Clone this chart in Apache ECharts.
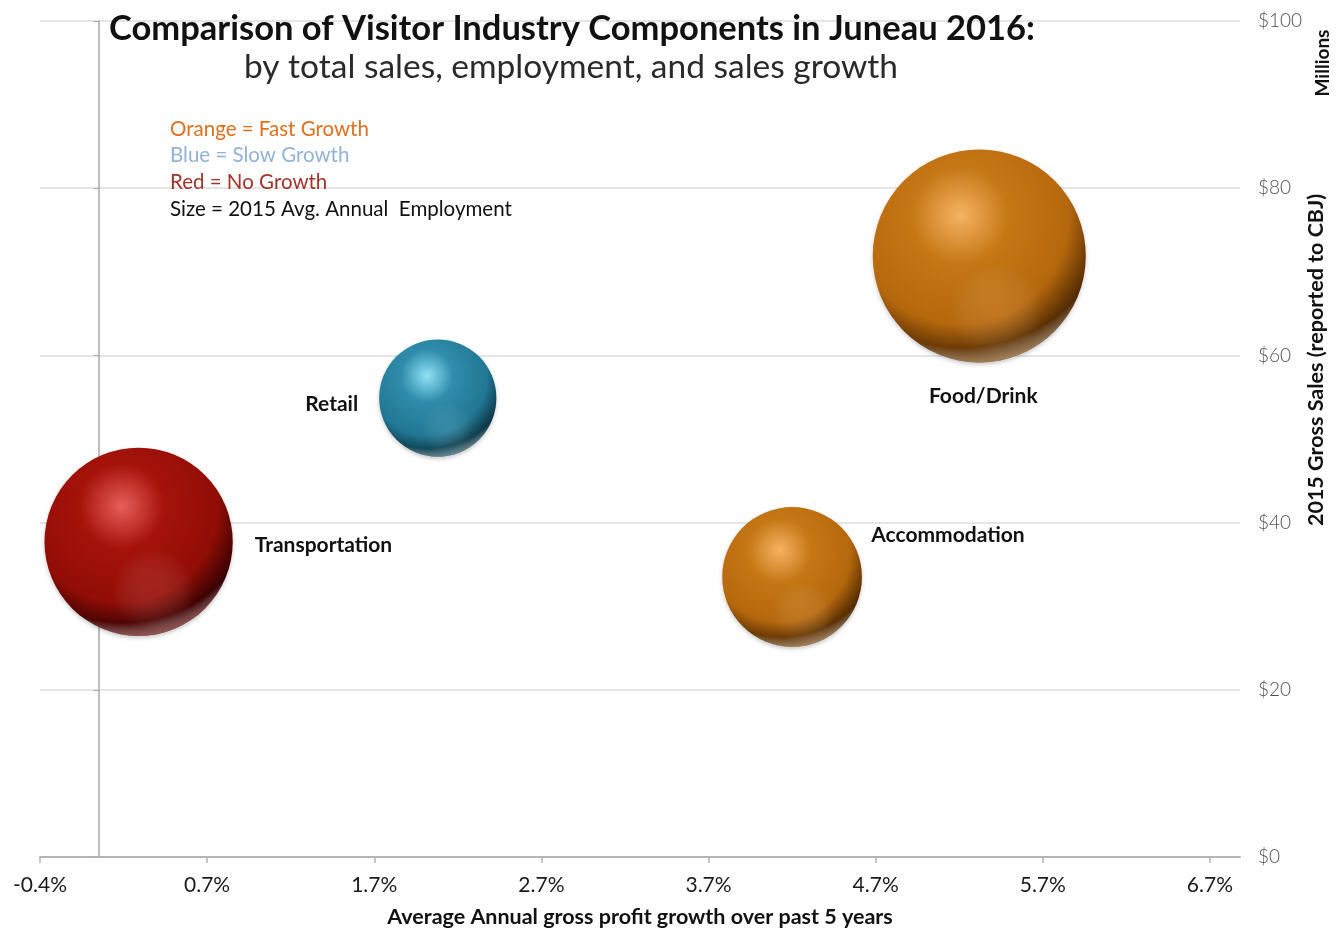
<!DOCTYPE html>
<html>
<head>
<meta charset="utf-8">
<title>Visitor Industry Components in Juneau 2016</title>
<script src="https://cdn.jsdelivr.net/npm/echarts@6/dist/echarts.min.js"></script>
<style>
  html, body { margin: 0; padding: 0; background: #ffffff; }
  #chart { width: 1337px; height: 930px; }
</style>
</head>
<body>
<div id="chart"></div>
<script>
// Visitor industry sectors: 5-year growth (%), 2015 gross sales ($M), 2015 employment
const sectors     = ['Transportation', 'Retail', 'Accommodation', 'Food/Drink'];
const growthPct   = [0.24, 2.03, 4.15, 5.27];
const grossSales  = [37.7, 54.9, 33.5, 71.9];
const employment  = [890, 345, 490, 1140];
const growthClass = ['none', 'slow', 'fast', 'fast'];

// Axis ticks
const xTickValues = [-0.35, 0.65, 1.65, 2.65, 3.65, 4.65, 5.65, 6.65];
const xTickLabels = ['-0.4%', '0.7%', '1.7%', '2.7%', '3.7%', '4.7%', '5.7%', '6.7%'];

// Legend notes
const legendLines = [
  { text: 'Orange = Fast Growth', color: '#e0701e' },
  { text: 'Blue = Slow Growth', color: '#92b2d6' },
  { text: 'Red = No Growth', color: '#a2342c' },
  { text: 'Size = 2015 Avg. Annual  Employment', color: '#111111' }
];

// Sphere shading per growth class: highlight, body, darker body, edge, deep edge
const palette = {
  fast: ['#f6b263', '#c67816', '#b5670c', '#5e3203', '#1e0e00'],
  slow: ['#8fe2f4', '#2f8cab', '#217793', '#0f4050', '#03161c'],
  none: ['#e85e5a', '#a5130a', '#910d06', '#420302', '#150000']
};
const rimColor = {
  fast: 'rgba(240,178,105,0.8)',
  slow: 'rgba(140,205,225,0.75)',
  none: 'rgba(220,100,95,0.8)'
};
const glowColor = {
  fast: 'rgba(240,175,100,0.2)',
  slow: 'rgba(140,210,225,0.18)',
  none: 'rgba(215,100,95,0.22)'
};

// Label placement per sector
const labelPlacement = {
  'Transportation': { position: 'right', distance: 22, offset: [0, 3] },
  'Retail':         { position: 'left', distance: 21, offset: [0, 6] },
  'Accommodation':  { position: [149, 28], align: 'left', verticalAlign: 'middle' },
  'Food/Drink':     { position: 'bottom', distance: 23, offset: [4, 0] }
};

const sizeOf = v => Math.sqrt(v[2]) * 6.31;

function sphereFill(cls) {
  const p = palette[cls];
  return {
    type: 'radial', x: 0.41, y: 0.31, r: 0.75,
    colorStops: [
      { offset: 0, color: p[0] },
      { offset: 0.3, color: p[1] },
      { offset: 0.68, color: p[2] },
      { offset: 0.86, color: p[3] },
      { offset: 1, color: p[4] }
    ]
  };
}
function rimFill(cls) {
  return {
    type: 'radial', x: 0.42, y: 0.2, r: 0.84,
    colorStops: [
      { offset: 0, color: 'rgba(255,255,255,0)' },
      { offset: 0.87, color: 'rgba(255,255,255,0)' },
      { offset: 1, color: rimColor[cls] }
    ]
  };
}
function glowFill(cls) {
  return {
    type: 'radial', x: 0.58, y: 0.76, r: 0.22,
    colorStops: [
      { offset: 0, color: glowColor[cls] },
      { offset: 1, color: 'rgba(255,255,255,0)' }
    ]
  };
}

const baseData = sectors.map((name, i) => ({
  name: name,
  value: [growthPct[i], grossSales[i], employment[i]],
  itemStyle: { color: sphereFill(growthClass[i]) },
  label: Object.assign({ show: true }, labelPlacement[name])
}));
const rimData = sectors.map((name, i) => ({
  name: name,
  value: [growthPct[i], grossSales[i], employment[i]],
  itemStyle: { color: rimFill(growthClass[i]) }
}));
const glowData = sectors.map((name, i) => ({
  name: name,
  value: [growthPct[i], grossSales[i], employment[i]],
  itemStyle: { color: glowFill(growthClass[i]) }
}));

const font = 'Lato, "Open Sans", sans-serif';

const chart = echarts.init(document.getElementById('chart'), null, { renderer: 'canvas' });

chart.setOption({
  backgroundColor: '#ffffff',
  animation: false,
  textStyle: { fontFamily: font },
  title: [
    {
      text: 'Comparison of Visitor Industry Components in Juneau 2016:',
      left: 567, top: 6, textAlign: 'center',
      textStyle: { fontFamily: font, fontSize: 34.5, fontWeight: 'bold', color: '#111111' }
    },
    {
      text: 'by total sales, employment, and sales growth',
      left: 566, top: 45, textAlign: 'center',
      textStyle: { fontFamily: font, fontSize: 33.5, fontWeight: 'normal', color: '#2a2a2a' }
    }
  ],
  graphic: legendLines.map((l, i) => ({
    type: 'text', left: 170, top: 118.5 + i * 26.7, z: 10,
    style: { text: l.text, fill: l.color, font: '20.5px ' + font }
  })).concat([
    {
      type: 'text', x: 1323, y: 63, rotation: Math.PI / 2, z: 10,
      style: { text: 'Millions', fill: '#111', font: 'bold 19px ' + font,
               align: 'center', verticalAlign: 'middle' }
    },
    {
      type: 'text', x: 1316, y: 360, rotation: Math.PI / 2, z: 10,
      style: { text: '2015 Gross Sales (reported to CBJ)', fill: '#111', font: 'bold 21.5px ' + font,
               align: 'center', verticalAlign: 'middle' }
    }
  ]),
  grid: { left: 40, right: 97, top: 21, bottom: 73, containLabel: false, outerBoundsMode: 'none' },
  xAxis: {
    type: 'value',
    min: -0.35,
    max: 6.83,
    name: 'Average Annual gross profit growth over past 5 years',
    nameLocation: 'middle',
    nameGap: 49,
    nameTextStyle: { fontFamily: font, fontSize: 21.5, fontWeight: 'bold', color: '#111' },
    axisLine: { onZero: false, lineStyle: { color: '#b4b4b4', width: 2 } },
    axisTick: { show: true, length: 6, customValues: xTickValues, lineStyle: { color: '#b4b4b4', width: 1.5 } },
    axisLabel: {
      customValues: xTickValues,
      margin: 18,
      fontSize: 21,
      color: '#1a1a1a',
      fontFamily: font,
      formatter: (v) => {
        const idx = xTickValues.findIndex(t => Math.abs(t - v) < 1e-6);
        return idx >= 0 ? xTickLabels[idx] : '';
      }
    },
    splitLine: { show: false }
  },
  yAxis: [
    {
      // axis line drawn where growth is zero, with gridlines
      type: 'value', min: 0, max: 100, interval: 20, position: 'left',
      axisLine: { show: true, onZero: true, lineStyle: { color: '#a8a8a8', width: 1.5 } },
      axisTick: { show: true, length: 5, lineStyle: { color: '#a8a8a8' } },
      axisLabel: { show: false },
      splitLine: { show: true, lineStyle: { color: '#dcdcdc', width: 1.5 } }
    },
    {
      // dollar labels on the right
      type: 'value', min: 0, max: 100, interval: 20, position: 'right',
      axisLine: { show: false },
      axisTick: { show: false },
      splitLine: { show: false },
      axisLabel: {
        margin: 18, fontSize: 19, color: '#505050', fontFamily: font, fontWeight: 300,
        formatter: v => '$' + v
      }
    }
  ],
  series: [
    {
      type: 'scatter',
      name: 'sectors',
      yAxisIndex: 0,
      data: baseData,
      symbol: 'circle',
      symbolSize: sizeOf,
      z: 3,
      itemStyle: { opacity: 1, shadowBlur: 4, shadowColor: 'rgba(0,0,0,0.22)', shadowOffsetY: 2 },
      label: {
        show: true,
        formatter: '{b}',
        fontFamily: font,
        fontSize: 21,
        fontWeight: 'bold',
        color: '#111'
      },
      emphasis: { disabled: true }
    },
    {
      type: 'scatter',
      name: 'rim',
      yAxisIndex: 0,
      data: rimData,
      symbol: 'circle',
      symbolSize: sizeOf,
      z: 4,
      silent: true,
      itemStyle: { opacity: 1 },
      label: { show: false },
      emphasis: { disabled: true }
    },
    {
      type: 'scatter',
      name: 'glow',
      yAxisIndex: 0,
      data: glowData,
      symbol: 'circle',
      symbolSize: sizeOf,
      z: 5,
      silent: true,
      itemStyle: { opacity: 1 },
      label: { show: false },
      emphasis: { disabled: true }
    }
  ]
});
</script>
</body>
</html>
